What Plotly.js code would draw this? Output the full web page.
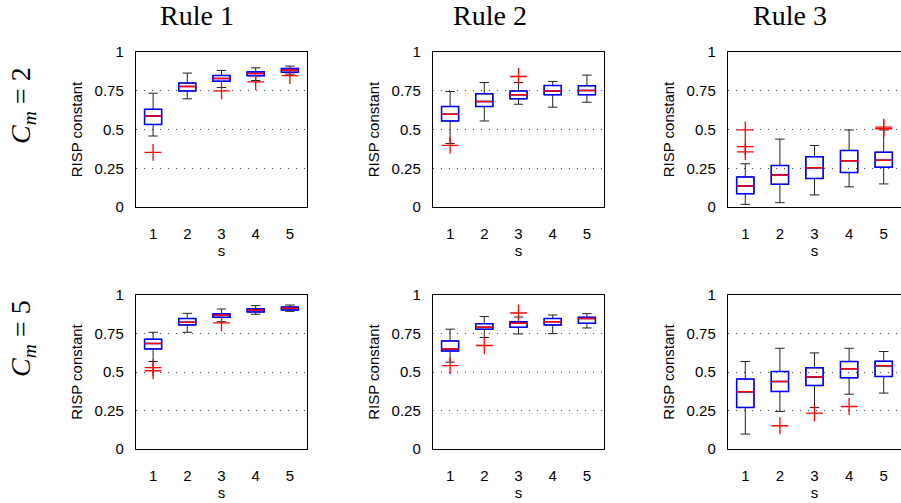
<!DOCTYPE html>
<html>
<head>
<meta charset="utf-8">
<script src="https://cdn.plot.ly/plotly-3.0.1.min.js"></script>
<style>html,body{margin:0;padding:0;background:#fff;}#chart{width:901px;height:503px;}</style>
</head>
<body>
<div id="chart"></div>
<script>
// categories
const sVals = [1, 2, 3, 4, 5];
const ruleTitles = ['Rule 1', 'Rule 2', 'Rule 3'];
const rowLabels = ['<i>C</i><sub><i>m</i></sub> = 2', '<i>C</i><sub><i>m</i></sub> = 5'];
const yTickVals = [0, 0.25, 0.5, 0.75, 1];
const yTickText = ['0', '0.25', '0.5', '0.75', '1'];

// Rule 1, Cm = 2
const r1c2_lo  = [0.458, 0.698, 0.771, 0.816, 0.857];
const r1c2_q1  = [0.533, 0.749, 0.812, 0.847, 0.870];
const r1c2_med = [0.587, 0.778, 0.829, 0.862, 0.883];
const r1c2_q3  = [0.630, 0.800, 0.849, 0.872, 0.894];
const r1c2_hi  = [0.734, 0.864, 0.881, 0.898, 0.909];
const r1c2_outX = [1, 3, 4, 5];
const r1c2_outY = [0.352, 0.749, 0.807, 0.847];

// Rule 2, Cm = 2
const r2c2_lo  = [0.410, 0.555, 0.663, 0.644, 0.676];
const r2c2_q1  = [0.555, 0.648, 0.698, 0.724, 0.724];
const r2c2_med = [0.598, 0.680, 0.724, 0.749, 0.752];
const r2c2_q3  = [0.648, 0.730, 0.749, 0.784, 0.782];
const r2c2_hi  = [0.745, 0.803, 0.803, 0.810, 0.851];
const r2c2_outX = [1, 3];
const r2c2_outY = [0.397, 0.842];

// Rule 3, Cm = 2
const r3c2_lo  = [0.017, 0.028, 0.078, 0.130, 0.149];
const r3c2_q1  = [0.086, 0.147, 0.184, 0.222, 0.257];
const r3c2_med = [0.136, 0.207, 0.253, 0.298, 0.302];
const r3c2_q3  = [0.194, 0.268, 0.324, 0.365, 0.354];
const r3c2_hi  = [0.279, 0.438, 0.397, 0.497, 0.497];
const r3c2_outX = [1, 1, 1, 5, 5];
const r3c2_outY = [0.497, 0.389, 0.356, 0.505, 0.515];

// Rule 1, Cm = 5
const r1c5_lo  = [0.568, 0.758, 0.827, 0.875, 0.894];
const r1c5_q1  = [0.650, 0.806, 0.855, 0.890, 0.903];
const r1c5_med = [0.685, 0.823, 0.870, 0.903, 0.914];
const r1c5_q3  = [0.713, 0.847, 0.879, 0.911, 0.922];
const r1c5_hi  = [0.758, 0.881, 0.909, 0.931, 0.935];
const r1c5_outX = [1, 1, 3];
const r1c5_outY = [0.529, 0.508, 0.819];

// Rule 2, Cm = 5
const r2c5_lo  = [0.564, 0.724, 0.747, 0.749, 0.786];
const r2c5_q1  = [0.637, 0.778, 0.790, 0.806, 0.816];
const r2c5_med = [0.650, 0.790, 0.816, 0.827, 0.847];
const r2c5_q3  = [0.702, 0.814, 0.827, 0.847, 0.855];
const r2c5_hi  = [0.778, 0.860, 0.857, 0.870, 0.879];
const r2c5_outX = [1, 2, 3];
const r2c5_outY = [0.542, 0.672, 0.883];

// Rule 3, Cm = 5
const r3c5_lo  = [0.097, 0.244, 0.270, 0.356, 0.363];
const r3c5_q1  = [0.270, 0.374, 0.413, 0.462, 0.471];
const r3c5_med = [0.371, 0.438, 0.467, 0.521, 0.540];
const r3c5_q3  = [0.454, 0.503, 0.527, 0.568, 0.570];
const r3c5_hi  = [0.568, 0.654, 0.624, 0.654, 0.633];
const r3c5_outX = [2, 3, 4];
const r3c5_outY = [0.151, 0.233, 0.276];

const panels = [
  {lo: r1c2_lo, q1: r1c2_q1, med: r1c2_med, q3: r1c2_q3, hi: r1c2_hi, ox: r1c2_outX, oy: r1c2_outY},
  {lo: r2c2_lo, q1: r2c2_q1, med: r2c2_med, q3: r2c2_q3, hi: r2c2_hi, ox: r2c2_outX, oy: r2c2_outY},
  {lo: r3c2_lo, q1: r3c2_q1, med: r3c2_med, q3: r3c2_q3, hi: r3c2_hi, ox: r3c2_outX, oy: r3c2_outY},
  {lo: r1c5_lo, q1: r1c5_q1, med: r1c5_med, q3: r1c5_q3, hi: r1c5_hi, ox: r1c5_outX, oy: r1c5_outY},
  {lo: r2c5_lo, q1: r2c5_q1, med: r2c5_med, q3: r2c5_q3, hi: r2c5_hi, ox: r2c5_outX, oy: r2c5_outY},
  {lo: r3c5_lo, q1: r3c5_q1, med: r3c5_med, q3: r3c5_q3, hi: r3c5_hi, ox: r3c5_outX, oy: r3c5_outY}
];

const W = 901, H = 503;
const colPx = [[136, 307], [433, 604], [728, 901]];
const rowPx = [[52, 207], [295, 449]];
const sansFont = 'Liberation Sans, Arial, sans-serif';
const serifFont = 'Liberation Serif, Times New Roman, serif';
const fs = 15;

const traces = [];
const layout = {
  width: W, height: H,
  margin: {l: 0, r: 0, t: 0, b: 0},
  paper_bgcolor: '#fff', plot_bgcolor: '#fff',
  showlegend: false,
  boxmode: 'overlay',
  font: {family: sansFont, size: fs, color: '#000'},
  annotations: []
};

panels.forEach((p, i) => {
  const r = Math.floor(i / 3), c = i % 3;
  const xa = i === 0 ? 'x' : 'x' + (i + 1);
  const ya = i === 0 ? 'y' : 'y' + (i + 1);
  const xKey = i === 0 ? 'xaxis' : 'xaxis' + (i + 1);
  const yKey = i === 0 ? 'yaxis' : 'yaxis' + (i + 1);
  // whiskers (black)
  traces.push({
    type: 'box', xaxis: xa, yaxis: ya, x: sVals,
    q1: p.q1, median: p.med, q3: p.q3, lowerfence: p.lo, upperfence: p.hi,
    width: 0.5, whiskerwidth: 0.55, boxpoints: false,
    line: {color: '#222', width: 1}, fillcolor: 'rgba(0,0,0,0)', hoverinfo: 'skip'
  });
  // box (blue)
  traces.push({
    type: 'box', xaxis: xa, yaxis: ya, x: sVals,
    q1: p.q1, median: p.med, q3: p.q3, lowerfence: p.q1, upperfence: p.q3,
    width: 0.5, whiskerwidth: 0, boxpoints: false,
    line: {color: '#0000ff', width: 1.5}, fillcolor: 'rgba(0,0,0,0)', hoverinfo: 'skip'
  });
  // median (red)
  traces.push({
    type: 'box', xaxis: xa, yaxis: ya, x: sVals,
    q1: p.med, median: p.med, q3: p.med, lowerfence: p.med, upperfence: p.med,
    width: 0.5, whiskerwidth: 0, boxpoints: false,
    line: {color: '#ff0000', width: 1.5}, fillcolor: 'rgba(0,0,0,0)', hoverinfo: 'skip'
  });
  // outliers
  traces.push({
    type: 'scatter', mode: 'markers', xaxis: xa, yaxis: ya, x: p.ox, y: p.oy,
    marker: {symbol: 'cross-thin-open', size: 12, color: '#ff0000', line: {color: '#ff0000', width: 1.3}},
    hoverinfo: 'skip'
  });

  layout[xKey] = {
    domain: [colPx[c][0] / W, colPx[c][1] / W],
    anchor: ya, range: [0.5, 5.5],
    tickvals: sVals, ticktext: sVals.map(String),
    showgrid: false, zeroline: false,
    showline: true, mirror: true, linecolor: '#000', linewidth: 1.2,
    ticks: '', ticklabelstandoff: 13,
    tickfont: {family: sansFont, size: fs, color: '#000'},
    title: {text: 's', font: {family: sansFont, size: fs, color: '#000'}, standoff: 4},
    fixedrange: true
  };
  layout[yKey] = {
    domain: [1 - rowPx[r][1] / H, 1 - rowPx[r][0] / H],
    anchor: xa, range: [0, 1],
    tickvals: yTickVals, ticktext: yTickText,
    showgrid: true, gridcolor: '#444', gridwidth: 1, griddash: '1px,7px',
    zeroline: false,
    showline: true, mirror: true, linecolor: '#000', linewidth: 1.2,
    ticks: '', ticklabelstandoff: 8,
    tickfont: {family: sansFont, size: fs, color: '#000'},
    title: {text: 'RISP constant', font: {family: sansFont, size: fs, color: '#000'}, standoff: 8},
    fixedrange: true
  };
});

// column titles
const titleX = [197, 490, 790];
ruleTitles.forEach((t, c) => {
  layout.annotations.push({
    xref: 'paper', yref: 'paper', x: titleX[c] / W, y: 1 - 16 / H,
    xanchor: 'center', yanchor: 'middle', showarrow: false,
    text: t, font: {family: serifFont, size: 28, color: '#000'}
  });
});
// row labels
const rowLabelY = [106, 339];
rowLabels.forEach((t, r) => {
  layout.annotations.push({
    xref: 'paper', yref: 'paper', x: 22 / W, y: 1 - rowLabelY[r] / H,
    xanchor: 'center', yanchor: 'middle', showarrow: false, textangle: -90,
    text: t, font: {family: serifFont, size: 28, color: '#000'}
  });
});

Plotly.newPlot('chart', traces, layout, {staticPlot: true, displayModeBar: false});
</script>
</body>
</html>
